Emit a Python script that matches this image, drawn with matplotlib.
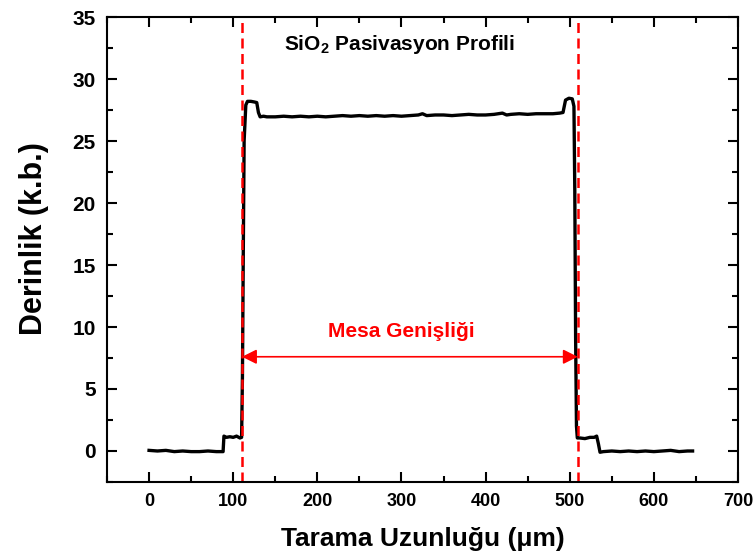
import matplotlib
matplotlib.use("Agg")
import matplotlib.pyplot as plt
from matplotlib.ticker import MultipleLocator

plt.rcParams["font.family"] = ["Liberation Sans", "DejaVu Sans"]
plt.rcParams["font.weight"] = "bold"
plt.rcParams["mathtext.fontset"] = "custom"
plt.rcParams["mathtext.bf"] = "Liberation Sans:bold"
plt.rcParams["mathtext.rm"] = "Liberation Sans:bold"

# Profile scan (scan length in um, depth in a.u.)
scan_x = [0, 10, 20, 30, 40, 50, 60, 70, 80, 88, 89, 92, 96, 100, 104, 108, 110,
          111, 112, 113, 115, 117, 121, 125, 128, 130, 132, 136, 140, 150, 160,
          170, 180, 190, 200, 210, 220, 230, 240, 250, 260, 270, 280, 290, 300,
          310, 320, 325, 330, 340, 350, 360, 370, 380, 390, 400, 410, 420, 425,
          430, 440, 450, 460, 470, 480, 488, 492, 495, 499, 503, 505, 506, 507,
          508, 509, 512, 518, 524, 529, 532, 534, 536, 540, 550, 560, 570, 580,
          590, 600, 610, 620, 630, 640, 646]
depth = [0.05, 0.0, 0.05, -0.05, 0.0, -0.05, -0.05, 0.0, -0.05, -0.05, 1.2, 1.1,
         1.15, 1.1, 1.2, 1.05, 1.1, 6.0, 16.0, 25.0, 27.9, 28.2, 28.2, 28.15,
         28.1, 27.3, 26.95, 27.0, 26.95, 26.95, 27.0, 26.95, 27.0, 26.95, 27.0,
         26.95, 27.0, 27.05, 27.0, 27.05, 27.0, 27.05, 27.0, 27.05, 27.0, 27.05,
         27.1, 27.2, 27.05, 27.1, 27.1, 27.05, 27.1, 27.15, 27.1, 27.1, 27.15,
         27.25, 27.1, 27.15, 27.2, 27.15, 27.2, 27.2, 27.2, 27.25, 27.3, 28.3,
         28.45, 28.4, 27.8, 21.0, 9.0, 2.0, 1.05, 1.05, 1.0, 1.1, 1.1, 1.2, 0.6,
         -0.1, -0.05, 0.0, -0.05, 0.0, -0.05, 0.0, -0.05, 0.0, 0.05, -0.05, 0.0,
         0.0]

mesa_edges = [110.5, 509.5]
arrow_y = 7.6

fig = plt.figure(figsize=(7.55, 5.6), dpi=100)
ax = fig.add_axes([0.1417, 0.1393, 0.8358, 0.8303])

ax.plot(scan_x, depth, color="black", linewidth=2.4, solid_joinstyle="round")
for xe in mesa_edges:
    ax.axvline(xe, color="red", linestyle=(0, (4, 2.2)), linewidth=1.8)

ax.annotate("", xy=(mesa_edges[0], arrow_y), xytext=(mesa_edges[1], arrow_y),
            arrowprops=dict(arrowstyle="<|-|>", color="red", lw=1.2,
                            mutation_scale=22, shrinkA=0, shrinkB=0))
ax.text(300, 9.6, "Mesa Genişliği", color="red", fontsize=15,
        fontweight="bold", ha="center", va="center")
ax.text(298, 32.8, r"SiO$_\mathbf{2}$ Pasivasyon Profili", fontsize=15,
        fontweight="bold", ha="center", va="center")

ax.set_xlim(-50, 700)
ax.set_ylim(-2.5, 35)
ax.xaxis.set_major_locator(MultipleLocator(100))
ax.xaxis.set_minor_locator(MultipleLocator(50))
ax.yaxis.set_major_locator(MultipleLocator(5))
ax.yaxis.set_minor_locator(MultipleLocator(2.5))
ax.tick_params(which="both", direction="in", top=True, right=True, width=1.5)
ax.tick_params(which="major", length=7)
ax.tick_params(which="minor", length=4)
ax.tick_params(axis="x", labelsize=13, pad=8)
ax.tick_params(axis="y", labelsize=15, pad=8)
for lab in ax.get_xticklabels() + ax.get_yticklabels():
    lab.set_fontweight("bold")
for sp in ax.spines.values():
    sp.set_linewidth(1.5)

ax.set_xlabel("Tarama Uzunluğu (μm)", fontsize=19, fontweight="bold", labelpad=12)
fig.text(34 / 755, 1 - 239 / 560, "Derinlik (k.b.)", fontsize=22,
         fontweight="bold", rotation=90, ha="center", va="center")

fig.savefig("out.png", dpi=100)
